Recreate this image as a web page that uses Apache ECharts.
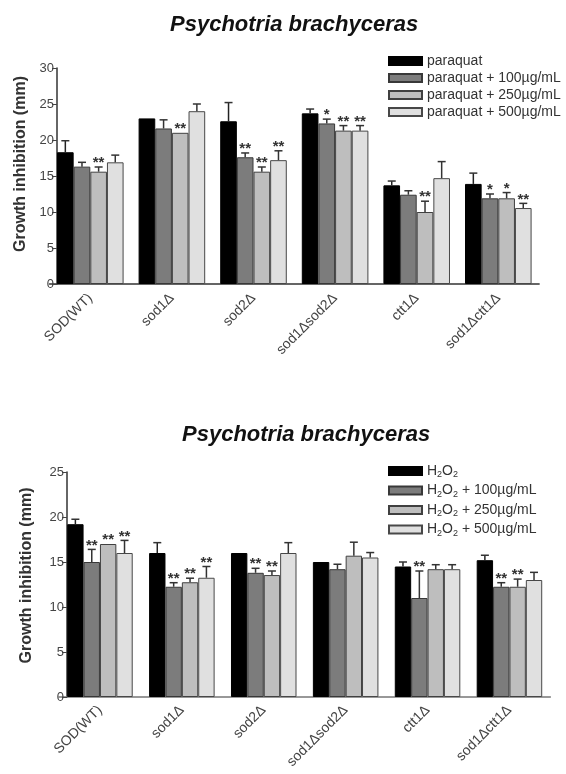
<!DOCTYPE html>
<html>
<head>
<meta charset="utf-8">
<script src="https://cdn.jsdelivr.net/npm/echarts@6/dist/echarts.min.js"></script>
<style>
html, body { margin: 0; padding: 0; background: #fff; }
#main { width: 566px; height: 774px; }
</style>
</head>
<body>
<div id="main"></div>
<script>
var categories = ['SOD(WT)', 'sod1\u0394', 'sod2\u0394', 'sod1\u0394sod2\u0394', 'ctt1\u0394', 'sod1\u0394ctt1\u0394'];
var yTicksTop = [0, 30, 5];
var yTicksBottom = [0, 25, 5];

// paraquat panel
var pqNames = ['paraquat', 'paraquat + 100\u00b5g/mL', 'paraquat + 250\u00b5g/mL', 'paraquat + 500\u00b5g/mL'];
var pq0 = [18.3, 23.0, 22.6, 23.7, 13.7, 13.9];
var pq100 = [16.3, 21.6, 17.6, 22.3, 12.4, 11.9];
var pq250 = [15.6, 21.0, 15.6, 21.3, 10.0, 11.9];
var pq500 = [16.9, 24.0, 17.2, 21.3, 14.7, 10.55];
var pq0Err = [1.6, 0, 2.6, 0.6, 0.6, 1.5];
var pq100Err = [0.6, 1.2, 0.6, 0.6, 0.55, 0.6];
var pq250Err = [0.65, 0, 0.65, 0.7, 1.5, 0.8];
var pq500Err = [1.0, 1.0, 1.3, 0.7, 2.3, 0.65];
var pq0Sig = ['', '', '', '', '', ''];
var pq100Sig = ['', '', '**', '*', '', '*'];
var pq250Sig = ['**', '**', '**', '**', '**', '*'];
var pq500Sig = ['', '', '**', '**', '', '**'];

// H2O2 panel
var hpNames = ['H2O2', 'H2O2 + 100\u00b5g/mL', 'H2O2 + 250\u00b5g/mL', 'H2O2 + 500\u00b5g/mL'];
var hp0 = [19.2, 16.0, 16.0, 15.0, 14.5, 15.2];
var hp100 = [15.0, 12.25, 13.8, 14.2, 11.0, 12.25];
var hp250 = [17.0, 12.75, 13.55, 15.7, 14.2, 12.25];
var hp500 = [16.0, 13.25, 16.0, 15.5, 14.2, 13.0];
var hp0Err = [0.55, 1.15, 0, 0, 0.5, 0.55];
var hp100Err = [1.4, 0.45, 0.5, 0.55, 3.0, 0.45];
var hp250Err = [0, 0.45, 0.45, 1.5, 0.5, 0.85];
var hp500Err = [1.4, 1.25, 1.15, 0.55, 0.5, 0.85];
var hp0Sig = ['', '', '', '', '', ''];
var hp100Sig = ['**', '**', '**', '', '**', '**'];
var hp250Sig = ['**', '**', '**', '', '', '**'];
var hp500Sig = ['**', '**', '', '', '', ''];

var fills = ['#000000', '#7c7c7c', '#bebebe', '#e0e0e0'];
var borders = ['#000000', '#383838', '#404040', '#484848'];
var font = "'Liberation Sans', Arial, Helvetica, sans-serif";

var chart = echarts.init(document.getElementById('main'));

// error bar + significance stars on top of each bar, through the axes
function errorSeries(name, grid, k, vals, errs, sigs, gap) {
	var data = [];
	for (var i = 0; i < vals.length; i++) {
		data.push([i, vals[i], errs[i]]);
	}
	return {
		type: 'custom',
		name: name + ' err',
		xAxisIndex: grid,
		yAxisIndex: grid,
		z: 5,
		silent: true,
		encode: { x: 0, y: 1 },
		data: data,
		renderItem: function (params, api) {
			var i = api.value(0), v = api.value(1), e = api.value(2);
			var band = api.size([1, 0])[0];
			var bw = band * (1 - gap) / 4;
			var base = api.coord([i, v]);
			var top = api.coord([i, v + e]);
			var x = base[0] + (k - 1.5) * bw;
			var children = [];
			if (e > 0) {
				children.push({
					type: 'line',
					shape: { x1: x, y1: base[1], x2: x, y2: top[1] },
					style: { stroke: k == 0 ? '#222' : '#333', lineWidth: 1.5 }
				});
				children.push({
					type: 'line',
					shape: { x1: x - 4, y1: top[1], x2: x + 4, y2: top[1] },
					style: { stroke: '#333', lineWidth: 1.5 }
				});
			}
			var s = sigs[params.dataIndex];
			if (s) {
				children.push({
					type: 'text',
					style: {
						x: x, y: top[1] - 4,
						text: s,
						fill: '#333',
						font: 'bold 15px ' + font,
						align: 'center',
						verticalAlign: 'middle'
					}
				});
			}
			return { type: 'group', children: children };
		}
	};
}

function barSeries(name, grid, k, vals, gap) {
	return {
		type: 'bar',
		name: name,
		xAxisIndex: grid,
		yAxisIndex: grid,
		data: vals,
		barGap: '0%',
		barCategoryGap: (gap * 100) + '%',
		itemStyle: { color: fills[k], borderColor: borders[k], borderWidth: 1 }
	};
}

var gapTop = 0.184, gapBottom = 0.2;

var series = [];
var pqVals = [pq0, pq100, pq250, pq500];
var pqErrs = [pq0Err, pq100Err, pq250Err, pq500Err];
var pqSigs = [pq0Sig, pq100Sig, pq250Sig, pq500Sig];
var hpVals = [hp0, hp100, hp250, hp500];
var hpErrs = [hp0Err, hp100Err, hp250Err, hp500Err];
var hpSigs = [hp0Sig, hp100Sig, hp250Sig, hp500Sig];
for (var k = 0; k < 4; k++) {
	series.push(barSeries(pqNames[k], 0, k, pqVals[k], gapTop));
	series.push(barSeries(hpNames[k], 1, k, hpVals[k], gapBottom));
}
for (var k = 0; k < 4; k++) {
	series.push(errorSeries(pqNames[k], 0, k, pqVals[k], pqErrs[k], pqSigs[k], gapTop));
	series.push(errorSeries(hpNames[k], 1, k, hpVals[k], hpErrs[k], hpSigs[k], gapBottom));
}

function xAxis(grid, lineColor, margin) {
	return {
		type: 'category',
		gridIndex: grid,
		data: categories,
		axisLine: { lineStyle: { color: lineColor, width: 1.5 } },
		axisTick: { show: false },
		axisLabel: {
			interval: 0, rotate: 45, margin: margin,
			fontSize: 14, color: '#444', fontFamily: font
		}
	};
}

function yAxis(grid, ticks, offset, nameGap, lift) {
	return {
		type: 'value',
		gridIndex: grid,
		min: ticks[0], max: ticks[1], interval: ticks[2],
		offset: offset,
		name: 'Growth inhibition (mm)',
		nameLocation: 'middle',
		nameGap: nameGap,
		nameTextStyle: {
			fontSize: 16, fontWeight: 'bold', color: '#333', fontFamily: font,
			padding: [0, 0, 0, lift]
		},
		axisLine: { show: true, lineStyle: { color: '#333', width: 1.5 } },
		axisTick: { show: true, length: 5, lineStyle: { color: '#444' } },
		splitLine: { show: false },
		axisLabel: { margin: 3, fontSize: 13, color: '#444', fontFamily: font }
	};
}

function legend(names, top, gap) {
	return {
		orient: 'vertical',
		left: 388,
		top: top,
		icon: 'rect',
		itemWidth: 33,
		itemHeight: 8,
		itemGap: gap,
		padding: 0,
		data: names,
		textStyle: {
			fontSize: 14, color: '#333', fontFamily: font,
			rich: { s: { fontSize: 9, color: '#333', fontFamily: font, padding: [8, 0, 0, 0] } }
		},
		formatter: function (n) {
			return n.replace(/H2O2/g, 'H{s|2}O{s|2}');
		}
	};
}

chart.setOption({
	animation: false,
	backgroundColor: '#fff',
	title: [
		{ text: 'Psychotria brachyceras', left: 170, top: 14, padding: 0,
			textStyle: { fontSize: 22, fontWeight: 'bold', fontStyle: 'italic', color: '#111', fontFamily: font } },
		{ text: 'Psychotria brachyceras', left: 182, top: 424, padding: 0,
			textStyle: { fontSize: 22, fontWeight: 'bold', fontStyle: 'italic', color: '#111', fontFamily: font } }
	],
	legend: [legend(pqNames, 54, 3), legend(hpNames, 464, 4)],
	grid: [
		{ left: 49.5, top: 68, width: 489.6, height: 216 },
		{ left: 59, top: 472, width: 491.4, height: 225 }
	],
	xAxis: [xAxis(0, '#333', 12), xAxis(1, '#777', 11)],
	yAxis: [yAxis(0, yTicksTop, -7.5, 26, 24), yAxis(1, yTicksBottom, -8, 32, 18)],
	series: series
});
</script>
</body>
</html>
